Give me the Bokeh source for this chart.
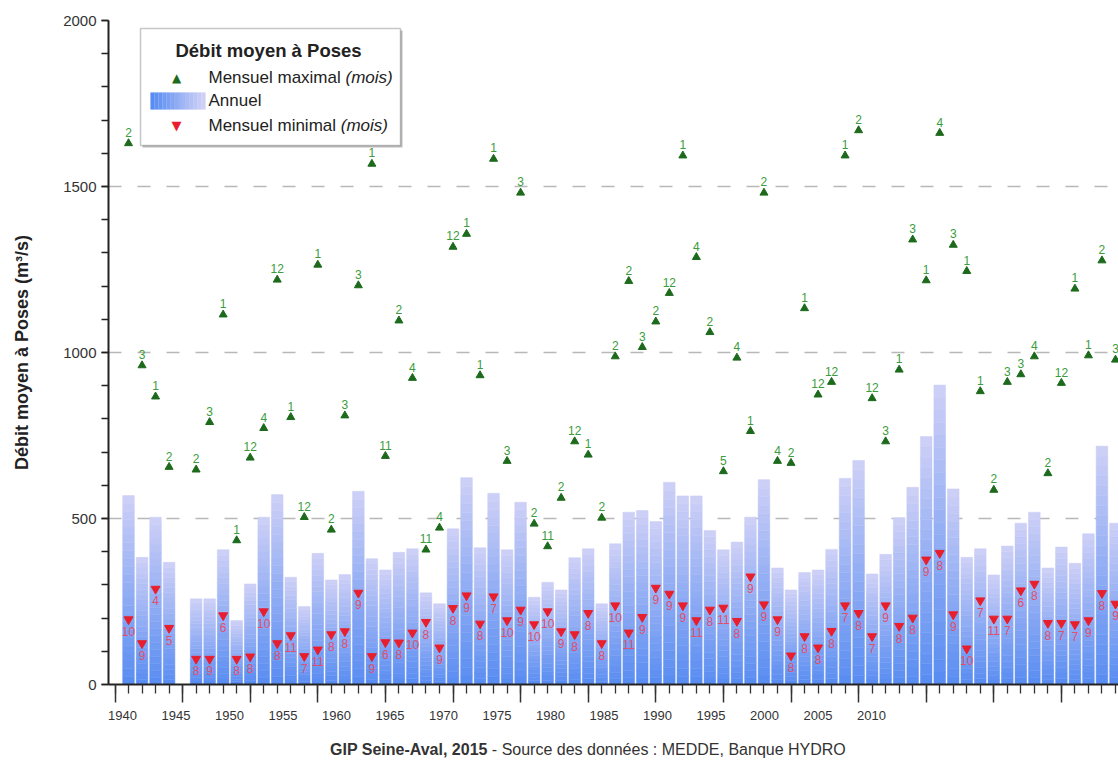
import numpy as np
from bokeh.plotting import figure
from bokeh.layouts import column
from bokeh.models import (ColumnDataSource, Range1d, LinearAxis, SingleIntervalTicker,
                          FixedTicker, BoxAnnotation, Label, Div)
from bokeh.core.properties import value
from bokeh.embed import file_html
from bokeh.resources import INLINE

# ---------------- data ----------------
years = [1941, 1942, 1943, 1944, 1946, 1947, 1948, 1949, 1950,
         1951, 1952, 1953, 1954, 1955, 1956, 1957, 1958, 1959, 1960,
         1961, 1962, 1963, 1964, 1965, 1966, 1967, 1968, 1969, 1970,
         1971, 1972, 1973, 1974, 1975, 1976, 1977, 1978, 1979, 1980,
         1981, 1982, 1983, 1984, 1985, 1986, 1987, 1988, 1989, 1990,
         1991, 1992, 1993, 1994, 1995, 1996, 1997, 1998, 1999, 2000,
         2001, 2002, 2003, 2004, 2005, 2006, 2007, 2008, 2009, 2010,
         2011, 2012, 2013, 2014]

annual = [569, 383, 504, 368, 258, 258, 406, 193, 303,
          504, 572, 323, 235, 395, 315, 331, 582, 379, 345,
          398, 409, 276, 243, 469, 623, 412, 576, 406, 549,
          263, 308, 285, 382, 409, 243, 424, 519, 524, 491,
          609, 568, 568, 464, 406, 429, 504, 617, 351, 285,
          337, 345, 407, 621, 675, 333, 392, 502, 594, 747,
          902, 589, 383, 409, 330, 417, 486, 519, 351, 414,
          365, 454, 718, 486]

max_flow = [1630, 961, 867, 655, 647, 790, 1114, 434, 683,
            772, 1219, 805, 504, 1264, 466, 810, 1202, 1568, 688,
            1096, 923, 406, 472, 1318, 1357, 931, 1583, 673, 1481,
            484, 416, 562, 732, 692, 502, 988, 1215, 1016, 1093,
            1179, 1593, 1287, 1061, 642, 984, 763, 1481, 673, 667,
            1133, 873, 911, 1593, 1669, 862, 732, 948, 1340, 1217,
            1661, 1324, 1245, 883, 586, 911, 934, 988, 636, 908,
            1192, 991, 1277, 978]

max_month = [2, 3, 1, 2, 2, 3, 1, 1, 12,
             4, 12, 1, 12, 1, 2, 3, 3, 1, 11,
             2, 4, 11, 4, 12, 1, 1, 1, 3, 3,
             2, 11, 2, 12, 1, 2, 2, 2, 3, 2,
             12, 1, 4, 2, 5, 4, 1, 2, 4, 2,
             1, 12, 12, 1, 2, 12, 3, 1, 3, 1,
             4, 3, 1, 1, 2, 3, 3, 4, 2, 12,
             1, 1, 2, 3]

min_flow = [196, 124, 288, 170, 77, 77, 208, 77, 84,
            220, 124, 148, 85, 105, 151, 160, 276, 85, 127,
            126, 156, 188, 111, 230, 268, 183, 265, 193, 225,
            181, 220, 160, 151, 215, 124, 238, 156, 203, 291,
            273, 238, 193, 225, 231, 191, 325, 241, 196, 87,
            145, 111, 161, 238, 215, 145, 238, 176, 201, 376,
            396, 211, 108, 253, 198, 198, 283, 303, 185, 185,
            181, 193, 275, 243]

min_month = [10, 9, 4, 5, 8, 9, 6, 8, 8,
             10, 8, 11, 7, 11, 8, 8, 9, 9, 6,
             8, 10, 8, 9, 8, 9, 8, 7, 10, 9,
             10, 10, 9, 8, 8, 8, 10, 11, 9, 9,
             9, 9, 11, 8, 11, 8, 9, 9, 9, 8,
             8, 8, 8, 7, 8, 7, 9, 8, 8, 9,
             8, 9, 10, 7, 11, 7, 6, 8, 8, 7,
             7, 9, 8, 9]

tick_label_years = list(range(1940, 2015, 5))
grid_levels = [500, 1000, 1500]

# ---------------- layout constants ----------------
FONT = "Liberation Sans"
W, H = 1118, 738
CAP_H = 24
BL, BR, BT, BB = 108, 0, 20, 54
FRAME_W = W - BL - BR
FRAME_H = H - BT - BB
PX_YEAR = 13.52
X0 = 1940 - (114.5 - BL) / PX_YEAR
X1 = X0 + FRAME_W / PX_YEAR
LAB_PX = 10.7
LX0 = 1940 - (122 - BL) / LAB_PX
LX1 = LX0 + FRAME_W / LAB_PX
Y0, Y1 = 0, 2000


def px2x(px):  # page px -> data x
    return X0 + (px - BL) / PX_YEAR


def py2y(py):  # page px -> data y
    return (BT + FRAME_H - py) * (Y1 - Y0) / FRAME_H


TOP_RGB = np.array([206, 208, 246])
BOT_RGB = np.array([88, 140, 242])


def mix(t):
    c = BOT_RGB + (TOP_RGB - BOT_RGB) * t
    return "#%02x%02x%02x" % tuple(int(round(v)) for v in c)


p = figure(width=W, height=H, x_range=Range1d(X0, X1), y_range=Range1d(Y0, Y1),
           x_axis_type=None, output_backend="svg", toolbar_location=None,
           min_border_left=BL, min_border_right=BR, min_border_top=BT,
           min_border_bottom=BB, background_fill_color="white",
           border_fill_color="white")
p.outline_line_color = None
p.extra_x_ranges = {"lab": Range1d(LX0, LX1)}

# y axis
ya = p.yaxis[0]
ya.ticker = SingleIntervalTicker(interval=500, num_minor_ticks=5)
ya.major_tick_in = 0
ya.major_tick_out = 7
ya.minor_tick_in = 0
ya.minor_tick_out = 7
ya.axis_line_width = 2
ya.axis_line_color = "#222222"
ya.major_tick_line_width = 1.5
ya.minor_tick_line_width = 1.5
ya.major_tick_line_color = "#222222"
ya.minor_tick_line_color = "#222222"
ya.major_label_text_font = FONT
ya.major_label_text_font_size = "15px"
ya.major_label_text_color = "#333333"
ya.major_label_standoff = 5
ya.axis_label = "Débit moyen à Poses (m³/s)"
ya.axis_label_text_font = FONT
ya.axis_label_text_font_style = "bold"
ya.axis_label_text_font_size = "18px"
ya.axis_label_text_color = "#222222"
ya.axis_label_standoff = 28

p.ygrid.ticker = FixedTicker(ticks=grid_levels)
p.ygrid.grid_line_color = "#b8b8b8"
p.ygrid.grid_line_dash = "13 16"
p.ygrid.grid_line_width = 1.5

# x axis: ticks (true positions)
tick_axis = LinearAxis(ticker=SingleIntervalTicker(interval=5, num_minor_ticks=5),
                       major_tick_in=0, major_tick_out=18, minor_tick_in=0, minor_tick_out=9,
                       axis_line_width=2, axis_line_color="#222222",
                       major_tick_line_width=1.5, minor_tick_line_width=1.3,
                       major_tick_line_color="#333333", minor_tick_line_color="#333333",
                       major_label_text_font_size="1px", major_label_text_color=None,
                       major_label_standoff=0)
p.add_layout(tick_axis, "below")

# x axis: labels
lab_axis = LinearAxis(x_range_name="lab",
                      ticker=FixedTicker(ticks=tick_label_years, minor_ticks=[]),
                      major_label_overrides={y: str(y) for y in tick_label_years},
                      axis_line_color=None, major_tick_line_color=None,
                      minor_tick_line_color=None, major_tick_in=0, major_tick_out=0,
                      major_label_standoff=8, major_label_text_font=FONT,
                      major_label_text_font_size="13px", major_label_text_color="#333333")
p.add_layout(lab_axis, "below")

# bars with vertical gradient (slices of each bar)
N = 24
bx, bb, bt, bc = [], [], [], []
for yr, v in zip(years, annual):
    for k in range(N):
        bx.append(yr)
        bb.append(v * k / N)
        bt.append(v * (k + 1) / N)
        bc.append(mix((k + 0.5) / N))
bar_src = ColumnDataSource(dict(x=bx, bottom=bb, top=bt, color=bc))
p.vbar(x="x", bottom="bottom", top="top", width=0.86, fill_color="color",
       line_color="color", line_width=0.5, source=bar_src)

# maxima
GREEN_M = "#1d6a1d"
GREEN_T = "#3a9c3a"
max_src = ColumnDataSource(dict(x=years, y=max_flow, t=[str(m) for m in max_month]))
p.scatter(x="x", y="y", marker="triangle", size=8, fill_color=GREEN_M,
          line_color=GREEN_M, source=max_src)
p.text(x="x", y="y", text="t", source=max_src, text_align="center",
       text_baseline="middle", y_offset=-11, text_font=value(FONT),
       text_font_size="12px", text_color=GREEN_T)

# minima
RED_M = "#e81e2c"
RED_T = "#e0506c"
min_src = ColumnDataSource(dict(x=years, y=min_flow, t=[str(m) for m in min_month]))
p.scatter(x="x", y="y", marker="inverted_triangle", size=9, fill_color=RED_M,
          line_color=RED_M, source=min_src)
p.text(x="x", y="y", text="t", source=min_src, text_align="center",
       text_baseline="middle", y_offset=12, text_font=value(FONT),
       text_font_size="12px", text_color=RED_T)

# ---------------- legend (manual) ----------------
p.add_layout(BoxAnnotation(left=px2x(142), right=px2x(402), top=py2y(30), bottom=py2y(147),
                           fill_color="#bbbbbb", fill_alpha=1, line_color=None))
p.add_layout(BoxAnnotation(left=px2x(140), right=px2x(400), top=py2y(28), bottom=py2y(145),
                           fill_color="white", fill_alpha=1, line_color="#444444",
                           line_width=1.5))
p.add_layout(Label(x=px2x(268), y=py2y(50), text="Débit moyen à Poses", text_align="center",
                   text_baseline="middle", text_font=FONT, text_font_size="18.5px",
                   text_font_style="bold", text_color="#222222"))

NS = 14
for k in range(NS):
    p.add_layout(BoxAnnotation(left=px2x(150 + 55 * k / NS), right=px2x(150 + 55 * (k + 1) / NS),
                               top=py2y(92), bottom=py2y(109), fill_color=mix(k / (NS - 1)),
                               fill_alpha=1, line_color=mix(k / (NS - 1)), line_width=0.5))

p.add_layout(Label(x=px2x(176), y=py2y(77), text="▲", text_align="center",
                   text_baseline="middle", text_font="DejaVu Sans", text_font_size="12px",
                   text_color=GREEN_M))
p.add_layout(Label(x=px2x(176), y=py2y(125), text="▼", text_align="center",
                   text_baseline="middle", text_font="DejaVu Sans", text_font_size="13px",
                   text_color=RED_M))

LEG_FS = 17
w_max = 8057 * LEG_FS / 1000.0
w_min = 7779 * LEG_FS / 1000.0
for txt, py, extra in [("Mensuel maximal ", 77, w_max), ("Annuel", 100, None),
                       ("Mensuel minimal ", 125, w_min)]:
    p.add_layout(Label(x=px2x(208), y=py2y(py), text=txt, text_align="left",
                       text_baseline="middle", text_font=FONT,
                       text_font_size="%dpx" % LEG_FS, text_color="#222222"))
    if extra is not None:
        p.add_layout(Label(x=px2x(208 + extra), y=py2y(py), text="(mois)", text_align="left",
                           text_baseline="middle", text_font=FONT,
                           text_font_size="%dpx" % LEG_FS, text_font_style="italic",
                           text_color="#222222"))

# ---------------- caption ----------------
caption_bold = "GIP Seine-Aval, 2015"
caption_rest = " - Source des données : MEDDE, Banque HYDRO"
cap = Div(text=('<div style="font-family:\'Liberation Sans\',Arial,sans-serif;font-size:16px;'
                'color:#333333;padding-left:330px;padding-top:2px;white-space:nowrap;'
                'line-height:20px;"><b>%s</b>%s</div>') % (caption_bold, caption_rest),
          width=W, height=CAP_H, margin=0)

open("out.html", "w").write(file_html(column(p, cap, spacing=0), INLINE))
